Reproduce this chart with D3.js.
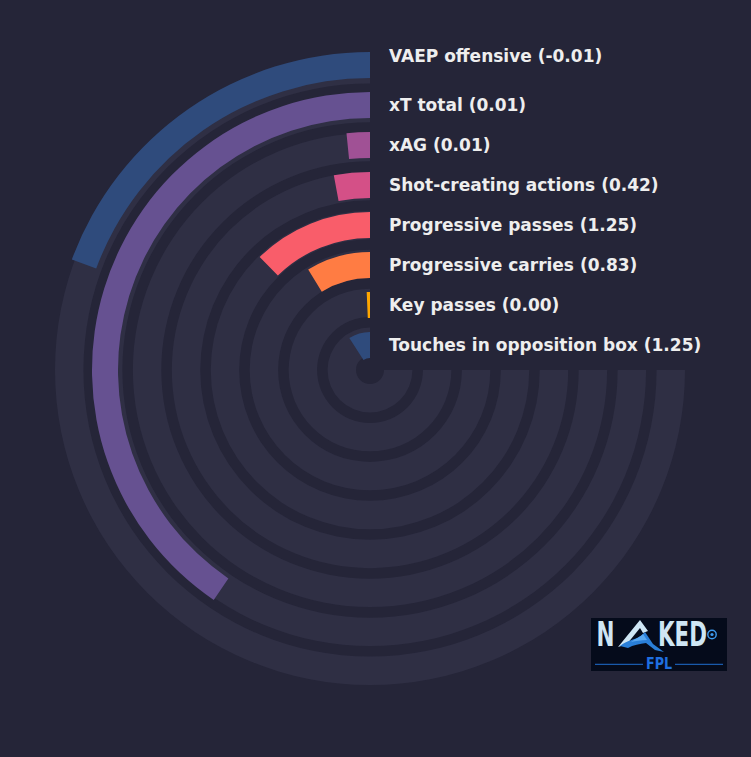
<!DOCTYPE html>
<html>
<head>
<meta charset="utf-8">
<script src="https://cdn.jsdelivr.net/npm/d3@7"></script>
<style>
  html, body { margin: 0; padding: 0; background: #252538; }
  svg { display: block; }
</style>
</head>
<body>
<div id="chart"></div>
<script>
// --------------------------------------
//  Canvas
// --------------------------------------

const width = 751;
const height = 757;
const cx = 370;
const cy = 370;

// --------------------------------------
//  Data (outermost ring first)
// --------------------------------------

const metrics = [
  "VAEP offensive",
  "xT total",
  "xAG",
  "Shot-creating actions",
  "Progressive passes",
  "Progressive carries",
  "Key passes",
  "Touches in opposition box"
];
const values = [-0.01, 0.01, 0.01, 0.42, 1.25, 0.83, 0.00, 1.25];
const percentiles = [25.8, 54.0, 2.1, 3.9, 16.4, 11.7, 0.9, 12.2];
const colors = ["#2f4b7c", "#665191", "#a05195", "#d45087", "#f95d6a", "#ff7c43", "#ffa600", "#2f4b7c"];

const data = metrics.map((m, i) => ({metric: m, value: values[i], pct: percentiles[i], color: colors[i], i}));

const svg = d3.select("#chart")
  .append("svg")
    .attr("width", width)
    .attr("height", height);

svg.append("rect")
  .attr("width", width)
  .attr("height", height)
  .attr("fill", "#252538");

const g = svg.append("g")
  .attr("transform", `translate(${cx}, ${cy})`);

// --------------------------------------
//  Scales
// --------------------------------------

const order = metrics.slice().reverse(); // innermost first

const rTrack = d3.scaleBand()
  .domain(order)
  .range([14, 315])
  .paddingInner(0.27);

const rBar = d3.scaleBand()
  .domain(order)
  .range([12, 318])
  .paddingInner(0.35);

const angle = d3.scaleLinear()
  .domain([0, 100])
  .range([0, -1.5 * Math.PI]);

const arc = d3.arc();

// --------------------------------------
//  Tracks and bars
// --------------------------------------

g.selectAll(".track")
  .data(data)
  .join("path")
    .attr("class", "track")
    .attr("d", d => arc({
      innerRadius: rTrack(d.metric),
      outerRadius: rTrack(d.metric) + rTrack.bandwidth(),
      startAngle: angle(0),
      endAngle: angle(100)
    }))
    .attr("fill", "#2f2f44");

g.selectAll(".bar")
  .data(data)
  .join("path")
    .attr("class", "bar")
    .attr("d", d => arc({
      innerRadius: rBar(d.metric),
      outerRadius: rBar(d.metric) + rBar.bandwidth(),
      startAngle: angle(0),
      endAngle: angle(d.pct)
    }))
    .attr("fill", d => d.color);

// --------------------------------------
//  Labels
// --------------------------------------

g.selectAll(".label")
  .data(data)
  .join("text")
    .attr("class", "label")
    .attr("x", 19)
    .attr("y", d => -(rBar(d.metric) + rBar.bandwidth() / 2) + 5.5 + (d.i === 0 ? -9 : 0))
    .attr("font-family", "DejaVu Sans")
    .attr("font-weight", "bold")
    .attr("font-size", 17)
    .attr("fill", "#eeeeee")
    .text(d => `${d.metric} (${d.value.toFixed(2)})`);

// --------------------------------------
//  Logo
// --------------------------------------

const logo = svg.append("g")
  .attr("transform", "translate(591, 618)");

logo.append("rect")
  .attr("width", 136)
  .attr("height", 53)
  .attr("fill", "#050b1b");

const word = logo.append("text")
  .attr("y", 28)
  .attr("font-family", "DejaVu Sans")
  .attr("font-weight", "bold")
  .attr("font-size", 34)
  .attr("fill", "#cfe6f4");

word.append("tspan")
  .attr("x", 5.5)
  .attr("textLength", 18)
  .attr("lengthAdjust", "spacingAndGlyphs")
  .text("N");

word.append("tspan")
  .attr("x", 67)
  .attr("textLength", 49)
  .attr("lengthAdjust", "spacingAndGlyphs")
  .text("KED");

// stylised "A" mountain
logo.append("path")
  .attr("d", "M27,29 L49,2 L57,13 L52,15 L49,10 L36,26 Z")
  .attr("fill", "#cfe6f4");
logo.append("path")
  .attr("d", "M29,28 C36,22 44,22 50,18 L54,14 L62,26 L73,34 L64,32 L55,25 C49,26 42,27 37,30 Z")
  .attr("fill", "#2a7fd8");
logo.append("path")
  .attr("d", "M40,24 C45,20 49,19 52,16 L56,22 C50,22 45,23 40,24 Z")
  .attr("fill", "#5aa8f0");

logo.append("circle")
  .attr("cx", 121)
  .attr("cy", 16.5)
  .attr("r", 4.2)
  .attr("fill", "none")
  .attr("stroke", "#3d9bf0")
  .attr("stroke-width", 1.4);
logo.append("circle")
  .attr("cx", 121)
  .attr("cy", 16.5)
  .attr("r", 1.6)
  .attr("fill", "#3d9bf0");

logo.append("line")
  .attr("x1", 4).attr("x2", 52).attr("y1", 46.3).attr("y2", 46.3)
  .attr("stroke", "#1e6fd0").attr("stroke-width", 1);
logo.append("line")
  .attr("x1", 84).attr("x2", 132).attr("y1", 46.3).attr("y2", 46.3)
  .attr("stroke", "#1e6fd0").attr("stroke-width", 1);

logo.append("text")
  .attr("x", 68)
  .attr("y", 51)
  .attr("text-anchor", "middle")
  .attr("textLength", 26)
  .attr("lengthAdjust", "spacingAndGlyphs")
  .attr("font-family", "DejaVu Sans")
  .attr("font-weight", "bold")
  .attr("font-size", 16)
  .attr("fill", "#1f6fe0")
  .text("FPL");
</script>
</body>
</html>
